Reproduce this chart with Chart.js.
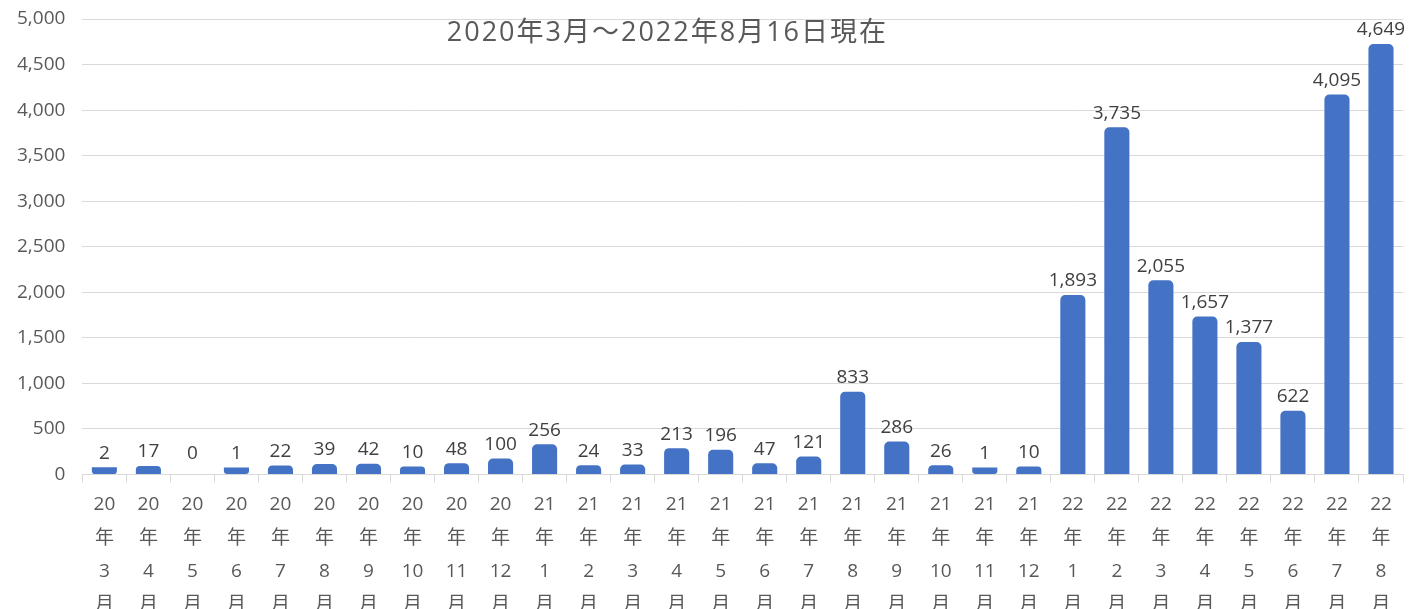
<!DOCTYPE html>
<html>
<head>
<meta charset="utf-8">
<script src="https://cdn.jsdelivr.net/npm/chart.js@4.4.0/dist/chart.umd.min.js"></script>
<style>
  html, body { margin: 0; padding: 0; background: #fff; }
  #wrap { width: 1420px; height: 609px; }
</style>
</head>
<body>
<div id="wrap"><canvas id="mycan"></canvas></div>
<script>
// months: [year, month]
var years = ['20','20','20','20','20','20','20','20','20','20',
             '21','21','21','21','21','21','21','21','21','21','21','21',
             '22','22','22','22','22','22','22','22'];
var months = ['3','4','5','6','7','8','9','10','11','12',
              '1','2','3','4','5','6','7','8','9','10','11','12',
              '1','2','3','4','5','6','7','8'];
var counts = [2, 17, 0, 1, 22, 39, 42, 10, 48, 100,
              256, 24, 33, 213, 196, 47, 121, 833, 286, 26, 1, 10,
              1893, 3735, 2055, 1657, 1377, 622, 4095, 4649];
var yTicks = [0, 500, 1000, 1500, 2000, 2500, 3000, 3500, 4000, 4500, 5000];
var titleText = '2020年3月～2022年8月16日現在';

var labels = [];
for (var i in years) {
  labels.push([years[i], '年', months[i], '月']);
}

var FONT = '"Open Sans", "Noto Sans CJK JP", sans-serif';

// excel-style rounded cap sits a little above the value
var capLift = {
  id: 'capLift',
  afterDatasetsUpdate: function(chart) {
    var meta = chart.getDatasetMeta(0);
    meta.data.forEach(function(el, i) {
      if (counts[i] > 0) el.y -= 7;
    });
  }
};

var valueLabels = {
  id: 'valueLabels',
  afterDatasetsDraw: function(chart) {
    var ctx = chart.ctx;
    var meta = chart.getDatasetMeta(0);
    ctx.save();
    ctx.font = '19px ' + FONT;
    ctx.fillStyle = '#404040';
    ctx.textAlign = 'center';
    ctx.textBaseline = 'middle';
    meta.data.forEach(function(el, i) {
      var top = counts[i] > 0 ? el.y : el.y - 7;
      ctx.fillText(counts[i].toLocaleString('en-US'), el.x, top - 14);
    });
    // title inside the plot
    var a = chart.chartArea;
    ctx.font = '27px ' + FONT;
    ctx.letterSpacing = '2px';
    ctx.fillStyle = '#595959';
    ctx.fillText(titleText, a.left + (a.right - a.left) * 0.443, 33);
    ctx.restore();
  }
};

var chartdata = {
  labels: labels,
  datasets: [{
    label: '件数',
    backgroundColor: '#4472c4',
    data: counts,
    barPercentage: 0.57,
    categoryPercentage: 1.0,
    borderRadius: 5,
    borderSkipped: 'start'
  }]
};

var bargraph = new Chart(document.getElementById('mycan'), {
  type: 'bar',
  data: chartdata,
  plugins: [capLift, valueLabels],
  options: {
    responsive: true,
    maintainAspectRatio: false,
    animation: false,
    layout: { padding: { left: 0, right: 17, top: 19, bottom: -18 } },
    plugins: {
      legend: { display: false },
      tooltip: { enabled: false }
    },
    scales: {
      x: {
        offset: true,
        grid: {
          offset: true,
          drawOnChartArea: false,
          drawTicks: true,
          tickLength: 8,
          color: '#d9d9d9'
        },
        border: { color: '#d9d9d9', width: 1 },
        ticks: {
          maxRotation: 0,
          autoSkip: false,
          padding: 6,
          color: '#595959',
          font: { family: FONT, size: 19, lineHeight: 1.743 }
        }
      },
      y: {
        min: 0,
        max: 5000,
        afterBuildTicks: function(scale) {
          scale.ticks = yTicks.map(function(v) { return { value: v }; });
        },
        afterFit: function(scale) {
          scale.paddingTop = 0;
        },
        grid: { color: '#d9d9d9', drawTicks: false },
        border: { display: false },
        ticks: {
          padding: 17,
          color: '#595959',
          font: { family: FONT, size: 19 },
          callback: function(v) { return v.toLocaleString('en-US'); }
        }
      }
    }
  }
});
</script>
</body>
</html>
